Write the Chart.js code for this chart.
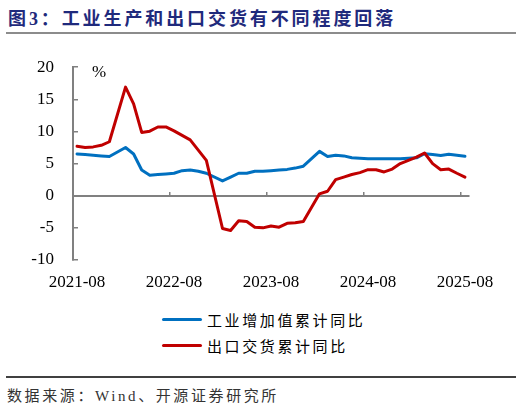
<!DOCTYPE html>
<html>
<head>
<meta charset="utf-8">
<script src="https://cdn.jsdelivr.net/npm/chart.js@4.4.1/dist/chart.umd.min.js"></script>
<style>
  body { margin: 0; background: #fff; }
  #page { position: relative; width: 522px; height: 408px; overflow: hidden; background: #fff; }
  #title {
    position: absolute; left: 8px; top: 4px; line-height: 24px;
    font: bold 18px "Liberation Serif", "Noto Sans CJK SC", sans-serif;
    letter-spacing: 2.9px; color: #1f2a7c; white-space: nowrap;
  }
  #titleLine { position: absolute; left: 6px; top: 32px; width: 510px; height: 2px; background: #8c8c8c; }
  #chartBox { position: absolute; left: 0; top: 33px; width: 522px; height: 262px; }
  #legend { position: absolute; left: 162px; top: 306px; }
  .item { display: flex; align-items: center; height: 26px; }
  .swatch { width: 40px; height: 3px; border-radius: 2px; margin-right: 5px; }
  .name { font: 15px "Noto Sans CJK SC", sans-serif; letter-spacing: 2.6px; color: #000; }
  #footLine { position: absolute; left: 6px; top: 376px; width: 510px; height: 1.5px; background: #404040; }
  #source {
    position: absolute; left: 7px; top: 384px; line-height: 20px;
    font: 15px "Liberation Serif", "Noto Sans CJK SC", serif;
    letter-spacing: 2.6px; color: #333; white-space: nowrap;
  }
</style>
</head>
<body>
<div id="page">
  <div id="title">图3：工业生产和出口交货有不同程度回落</div>
  <div id="titleLine"></div>
  <div id="chartBox"><canvas id="chart" width="522" height="262"></canvas></div>
  <div id="legend"></div>
  <div id="footLine"></div>
  <div id="source">数据来源：Wind、开源证券研究所</div>
</div>
<script>
const months = [
  "2021-08", "2021-09", "2021-10", "2021-11", "2021-12",
  "2022-01", "2022-02", "2022-03", "2022-04", "2022-05", "2022-06",
  "2022-07", "2022-08", "2022-09", "2022-10", "2022-11", "2022-12",
  "2023-01", "2023-02", "2023-03", "2023-04", "2023-05", "2023-06",
  "2023-07", "2023-08", "2023-09", "2023-10", "2023-11", "2023-12",
  "2024-01", "2024-02", "2024-03", "2024-04", "2024-05", "2024-06",
  "2024-07", "2024-08", "2024-09", "2024-10", "2024-11", "2024-12",
  "2025-01", "2025-02", "2025-03", "2025-04", "2025-05", "2025-06",
  "2025-07", "2025-08",
];

// 工业增加值累计同比 (%), no January prints
const industryYoY = [
  6.5, 6.4, 6.3, 6.2, 6.1,
  null, 7.5, 6.5, 4.0, 3.2, 3.3,
  3.4, 3.5, 3.9, 4.0, 3.8, 3.5,
  null, 2.3, 2.9, 3.5, 3.5, 3.8,
  3.8, 3.9, 4.0, 4.1, 4.3, 4.6,
  null, 6.9, 6.1, 6.3, 6.2, 5.9,
  5.85, 5.75, 5.75, 5.75, 5.75, 5.75,
  null, 5.9, 6.55, 6.4, 6.25, 6.45,
  6.3, 6.15,
];

// 出口交货累计同比 (%)
const exportYoY = [
  7.7, 7.5, 7.6, 7.85, 8.4,
  null, 16.9, 14.3, 9.85, 10.05, 10.7,
  10.7, 10.1, 9.4, 8.7, 7.1, 5.5,
  null, -5.1, -5.4, -3.9, -4.0, -4.9,
  -5.0, -4.7, -4.9, -4.3, -4.2, -4.0,
  null, 0.3, 0.7, 2.5, 2.9, 3.3,
  3.6, 4.05, 4.05, 3.7, 4.15, 5.0,
  null, 6.0, 6.65, 5.0, 4.05, 4.15,
  3.5, 2.9,
];

const seriesNames = ["工业增加值累计同比", "出口交货累计同比"];
const seriesColors = ["#0070c0", "#c00000"];

const axisGray = "#808080";
const serif = "'Liberation Serif', 'Times New Roman', serif";

const percentLabel = {
  id: "percentLabel",
  afterDraw(chart) {
    const ctx = chart.ctx;
    const area = chart.chartArea;
    ctx.save();
    ctx.font = "17px " + serif;
    ctx.fillStyle = "#000";
    ctx.textAlign = "center";
    ctx.textBaseline = "middle";
    ctx.fillText("%", area.left + 26, area.top + 5);
    ctx.restore();
  },
};

const chart = new Chart(document.getElementById("chart"), {
  type: "line",
  data: {
    labels: months,
    datasets: [
      {
        label: seriesNames[0],
        data: industryYoY,
        borderColor: seriesColors[0],
        order: 1,
      },
      {
        label: seriesNames[1],
        data: exportYoY,
        borderColor: seriesColors[1],
        order: 0,
      },
    ],
  },
  options: {
    responsive: false,
    animation: false,
    spanGaps: true,
    layout: { padding: { top: 0, right: 53, left: 0, bottom: 0 } },
    elements: {
      line: { borderWidth: 3, tension: 0, borderCapStyle: "round", borderJoinStyle: "round" },
      point: { radius: 0, hoverRadius: 0 },
    },
    plugins: {
      legend: { display: false },
      tooltip: { enabled: false },
    },
    scales: {
      x: {
        type: "category",
        offset: true,
        grid: { display: false, drawTicks: false },
        border: { display: false },
        ticks: {
          autoSkip: false,
          maxRotation: 0,
          padding: 12,
          color: "#000",
          font: { family: serif, size: 17 },
          callback: (value, index) => (index % 12 === 0 ? months[index] : ""),
        },
        afterFit: (scale) => {
          scale.height = 35;
        },
      },
      x2: {
        type: "category",
        position: { y: 0 },
        offset: true,
        grid: {
          offset: true,
          drawOnChartArea: false,
          tickLength: -5,
          lineWidth: 1.5,
          color: (ctx) => (ctx.index % 12 === 0 ? axisGray : "rgba(0,0,0,0)"),
        },
        border: { color: axisGray, width: 2 },
        ticks: { display: false, autoSkip: false },
      },
      y: {
        min: -10,
        max: 20,
        ticks: {
          stepSize: 5,
          padding: 24,
          color: "#000",
          font: { family: serif, size: 17 },
        },
        grid: { drawOnChartArea: false, tickLength: -5, lineWidth: 1.5, color: axisGray },
        border: { color: axisGray, width: 2 },
        afterFit: (scale) => {
          scale.width = 73;
        },
      },
    },
  },
  plugins: [percentLabel],
});

const legend = document.getElementById("legend");
chart.data.datasets.forEach((ds) => {
  const item = document.createElement("div");
  item.className = "item";
  item.innerHTML =
    '<span class="swatch" style="background:' + ds.borderColor + '"></span>' +
    '<span class="name">' + ds.label + "</span>";
  legend.appendChild(item);
});
</script>
</body>
</html>
